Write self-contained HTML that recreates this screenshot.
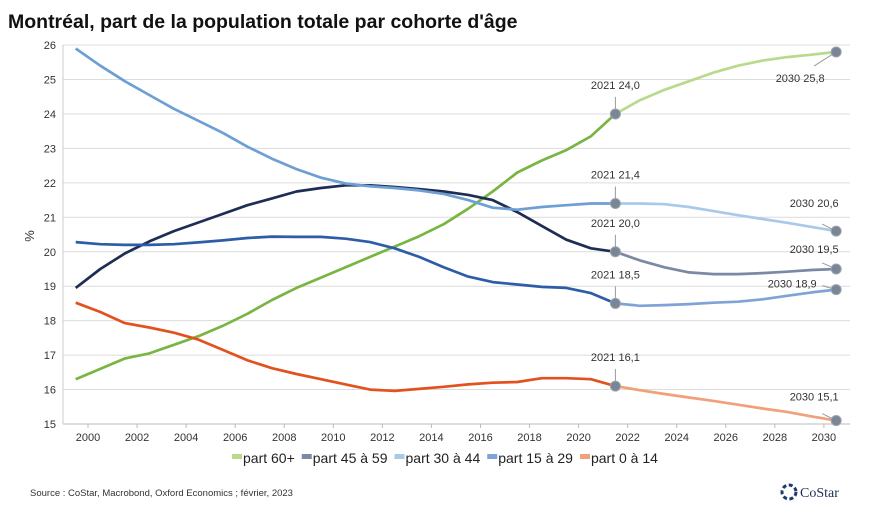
<!DOCTYPE html>
<html><head><meta charset="utf-8"><style>
body{margin:0;background:#fff;}
svg{display:block;font-family:"Liberation Sans",sans-serif;}
</style></head><body>
<svg id="c" width="890" height="515">
<text x="8" y="28" font-size="19.5" font-weight="bold" fill="#111">Montréal, part de la population totale par cohorte d'âge</text>
<g id="grid"></g><g id="series"></g><g id="ann"></g>
<text x="34" y="236" font-size="13" fill="#333" transform="rotate(-90 34 236)" text-anchor="middle">%</text>
<g id="legend"></g>
<text x="30" y="496" font-size="9.5" fill="#333">Source : CoStar, Macrobond, Oxford Economics ; février, 2023</text>
<g>
<circle cx="789" cy="492" r="7" fill="none" stroke="#1f3b6e" stroke-width="3" stroke-dasharray="4 2.5"/>
<text x="800" y="497" font-family="Liberation Serif,serif" font-size="14" fill="#1f2d55">CoStar</text>
</g>
</svg>
<script>
const years=[];for(let y=1999.5;y<=2030.5;y++)years.push(y);
const yTicks=[15,16,17,18,19,20,21,22,23,24,25,26];
const xTicks=[2000,2002,2004,2006,2008,2010,2012,2014,2016,2018,2020,2022,2024,2026,2028,2030];
const s60=[16.3,16.6,16.9,17.05,17.3,17.55,17.85,18.2,18.6,18.95,19.25,19.55,19.85,20.15,20.45,20.8,21.25,21.75,22.3,22.65,22.95,23.35,24.0,24.4,24.7,24.95,25.2,25.4,25.55,25.65,25.72,25.8];
const s45=[18.95,19.5,19.95,20.3,20.6,20.85,21.1,21.35,21.55,21.75,21.85,21.93,21.93,21.88,21.82,21.75,21.65,21.5,21.15,20.75,20.35,20.1,20.0,19.75,19.55,19.4,19.35,19.35,19.38,19.42,19.47,19.5];
const s30=[25.9,25.4,24.95,24.55,24.15,23.8,23.45,23.05,22.7,22.4,22.15,21.98,21.9,21.85,21.78,21.68,21.5,21.28,21.22,21.3,21.35,21.4,21.4,21.4,21.38,21.3,21.18,21.06,20.95,20.84,20.72,20.6];
const s15=[20.28,20.22,20.2,20.2,20.22,20.27,20.33,20.4,20.44,20.43,20.43,20.38,20.28,20.1,19.85,19.55,19.28,19.12,19.05,18.98,18.95,18.8,18.5,18.43,18.45,18.48,18.52,18.55,18.62,18.72,18.82,18.9];
const s0=[18.52,18.25,17.93,17.8,17.65,17.45,17.15,16.85,16.62,16.45,16.3,16.15,16.0,15.96,16.02,16.08,16.15,16.2,16.22,16.33,16.33,16.3,16.1,15.98,15.87,15.77,15.67,15.56,15.45,15.35,15.22,15.1];
const names=["part 60+","part 45 à 59","part 30 à 44","part 15 à 29","part 0 à 14"];
const forecastIdx=22;
const X=v=>88+(v-2000)*24.53, Y=v=>424-(v-15)*34.45;
const NS="http://www.w3.org/2000/svg";
function mk(t,a,p){const e=document.createElementNS(NS,t);for(const k in a)e.setAttribute(k,a[k]);p.appendChild(e);return e;}
const g=document.getElementById('grid');
yTicks.forEach(t=>{const l=mk('line',{x1:63,x2:850,y1:Y(t),y2:Y(t),stroke:t==15?'#bbb':'#dcdcdc','stroke-width':1},g);

const tx=mk('text',{x:56,y:Y(t)+4,'font-size':11,'text-anchor':'end',fill:'#333'},g);tx.textContent=t;
});
mk('line',{x1:63,x2:63,y1:45,y2:424,stroke:'#ccc'},g);
xTicks.forEach(t=>{mk('line',{x1:X(t),x2:X(t),y1:424,y2:428,stroke:'#bbb'},g);
const tx=mk('text',{x:X(t),y:441,'font-size':11,'text-anchor':'middle',fill:'#333'},g);tx.textContent=t;
});
const series=[s60,s45,s30,s15,s0];
const cols=["#79b543","#1f2d55","#6d9fd4","#2e5da8","#e2521f"];
const fcols=["#b9da8c","#7b8aa3","#a9c9e8","#7fa3d6","#f0a07a"];
const sg=document.getElementById('series');
function path(arr,a,b){let d='';for(let i=a;i<=b;i++)d+=(i==a?'M':'L')+X(years[i]).toFixed(1)+','+Y(arr[i]).toFixed(1);return d;}
series.forEach((s,k)=>{
const p1=mk('path',{d:path(s,0,forecastIdx),fill:'none',stroke:cols[k],'stroke-width':2.7,'stroke-linejoin':'round'},sg);

const p2=mk('path',{d:path(s,forecastIdx,years.length-1),fill:'none',stroke:fcols[k],'stroke-width':2.7,'stroke-linejoin':'round'},sg);
});
const an=document.getElementById('ann');
// label offsets (layout): [dx, baseline dy, leader end dx, leader end dy]
const off2030=[[-36,30,-22,14],[-22,-16,-14,-6],[-22,-24,-14,-7],[-44,-2,-14,-4],[-22,-20,-14,-7]];
series.forEach((s,k)=>{
const last=years.length-1;
[[forecastIdx,0,-25,0,-17],[last,...off2030[k]]].forEach(([i,dx,dy,ex,ey])=>{
const cx=X(years[i]),cy=Y(s[i]);
mk('line',{x1:cx,y1:cy,x2:cx+ex,y2:cy+ey,stroke:'#999'},an);
const c=mk('circle',{cx:cx,cy:cy,r:5,fill:'#7a8596',stroke:'#9aa3b0'},an);

const t=mk('text',{x:cx+dx,y:cy+dy,'font-size':11,'text-anchor':'middle',fill:'#333'},an);
t.textContent=Math.floor(years[i])+' '+s[i].toFixed(1).replace('.',',');
});});
const lg=document.getElementById('legend');let lx=232;
names.forEach((n,k)=>{const it=mk('g',{},lg);

mk('rect',{x:lx,y:454,width:10,height:5,fill:fcols[k]},it);
const t=mk('text',{x:lx+11,y:463,'font-size':14,fill:'#222'},it);t.textContent=n;
lx+=11+t.getComputedTextLength()+7;});
</script>
</body></html>
